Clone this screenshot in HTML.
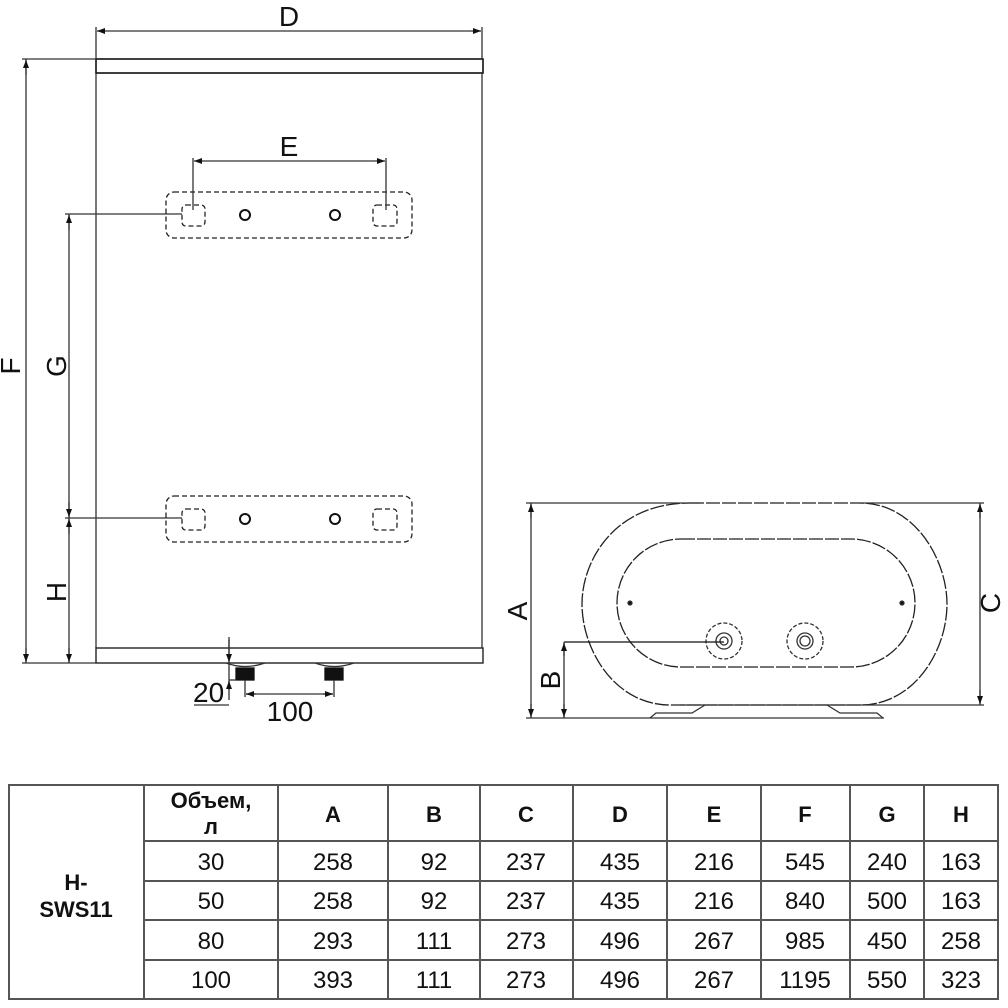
<!DOCTYPE html>
<html><head><meta charset="utf-8"><style>
html,body{margin:0;padding:0;background:#fff;width:1008px;height:1008px;overflow:hidden}
svg{display:block}
.t{font-family:"Liberation Sans",sans-serif}
</style></head><body>
<svg width="1008" height="1008" viewBox="0 0 1008 1008" xmlns="http://www.w3.org/2000/svg">
<defs>
<marker id="a" markerWidth="8" markerHeight="6" refX="8" refY="3" orient="auto" markerUnits="userSpaceOnUse"><path d="M0,0 L8,3 L0,6z" fill="#111"/></marker>
</defs>
<g stroke="#333" stroke-width="1.3" fill="none">
<rect x="96" y="59" width="387" height="14" stroke="#111" stroke-width="1.6"/>
<line x1="96" y1="73" x2="96" y2="648"/>
<line x1="482" y1="73" x2="482" y2="648"/>
<rect x="96" y="648" width="387" height="15" stroke="#222" stroke-width="1.4"/>
<line x1="96" y1="27" x2="96" y2="59"/><line x1="482" y1="27" x2="482" y2="59"/>
<line x1="108" y1="31" x2="470" y2="31"/>
<line x1="108" y1="31" x2="97" y2="31" marker-end="url(#a)"/>
<line x1="470" y1="31" x2="481" y2="31" marker-end="url(#a)"/>
<line x1="22" y1="59" x2="96" y2="59"/>
<line x1="26" y1="59" x2="26" y2="663"/>
<line x1="26" y1="75" x2="26" y2="60" marker-end="url(#a)"/>
<line x1="26" y1="648" x2="26" y2="662" marker-end="url(#a)"/>
<line x1="22" y1="663" x2="96" y2="663"/>
<line x1="69" y1="214" x2="69" y2="663"/>
<line x1="65" y1="214" x2="182" y2="214"/>
<line x1="65" y1="518" x2="182" y2="518"/>
<line x1="69" y1="230" x2="69" y2="215" marker-end="url(#a)"/>
<line x1="69" y1="502" x2="69" y2="517" marker-end="url(#a)"/>
<line x1="69" y1="534" x2="69" y2="519" marker-end="url(#a)"/>
<line x1="69" y1="648" x2="69" y2="662" marker-end="url(#a)"/>
<g stroke-dasharray="5,3" stroke="#222">
<rect x="166" y="192" width="246" height="46" rx="8"/>
<rect x="182" y="205" width="23" height="21" rx="4"/>
<rect x="373" y="205" width="24" height="21" rx="4"/>
<rect x="166" y="496" width="246" height="46" rx="8"/>
<rect x="182" y="509" width="23" height="21" rx="4"/>
<rect x="373" y="509" width="24" height="21" rx="4"/>
</g>
<g stroke="#111" stroke-width="2">
<circle cx="245" cy="215" r="5"/><circle cx="335" cy="215" r="5"/>
<circle cx="245" cy="519" r="5"/><circle cx="335" cy="519" r="5"/>
</g>
<line x1="193" y1="158" x2="193" y2="210"/><line x1="386" y1="158" x2="386" y2="210"/>
<line x1="205" y1="161" x2="374" y2="161"/>
<line x1="205" y1="161" x2="194" y2="161" marker-end="url(#a)"/>
<line x1="374" y1="161" x2="385" y2="161" marker-end="url(#a)"/>
<path d="M226,663 Q245,670 265,663"/><path d="M315,663 Q334,670 354,663"/>
<rect x="236" y="668" width="18" height="12" fill="#111" stroke="#111"/>
<rect x="325" y="668" width="18" height="12" fill="#111" stroke="#111"/>
<line x1="229" y1="637" x2="229" y2="700"/>
<line x1="229" y1="640" x2="229" y2="662" marker-end="url(#a)"/>
<line x1="229" y1="690" x2="229" y2="681" marker-end="url(#a)"/>
<line x1="229" y1="680" x2="236" y2="680"/>
<line x1="194" y1="705" x2="229" y2="705"/>
<line x1="245" y1="680" x2="245" y2="697"/><line x1="334" y1="680" x2="334" y2="697"/>
<line x1="246" y1="694" x2="333" y2="694"/>
<line x1="256" y1="694" x2="246" y2="694" marker-end="url(#a)"/>
<line x1="323" y1="694" x2="333" y2="694" marker-end="url(#a)"/>
<path d="M690,503 L860,503 C915,503 947,560 947,604 C947,650 915,705 860,705 L670,705 C615,705 582,650 582,604 C582,560 615,503 690,503 Z" stroke-dasharray="14,2" stroke="#222"/>
<rect x="617" y="539" width="298" height="128" rx="64" ry="64" stroke-dasharray="14,2" stroke="#222"/>
<circle cx="724" cy="641" r="18" stroke-dasharray="4,2"/><circle cx="724" cy="641" r="8"/><circle cx="724" cy="641" r="4"/>
<circle cx="805" cy="641" r="18" stroke-dasharray="4,2"/><circle cx="805" cy="641" r="8"/><circle cx="805" cy="641" r="5"/>
<circle cx="630" cy="603" r="2" fill="#111"/><circle cx="902" cy="603" r="2" fill="#111"/>
<line x1="564" y1="642" x2="724" y2="642" stroke="#111"/>
<line x1="526" y1="503" x2="700" y2="503"/><line x1="860" y1="503" x2="984" y2="503"/>
<line x1="531" y1="503" x2="531" y2="718"/>
<line x1="531" y1="518" x2="531" y2="504" marker-end="url(#a)"/>
<line x1="531" y1="704" x2="531" y2="717" marker-end="url(#a)"/>
<line x1="564" y1="642" x2="564" y2="718"/>
<line x1="564" y1="656" x2="564" y2="643" marker-end="url(#a)"/>
<line x1="564" y1="704" x2="564" y2="717" marker-end="url(#a)"/>
<line x1="526" y1="718" x2="884" y2="718"/>
<line x1="980" y1="503" x2="980" y2="705"/>
<line x1="980" y1="518" x2="980" y2="504" marker-end="url(#a)"/>
<line x1="980" y1="690" x2="980" y2="704" marker-end="url(#a)"/>
<line x1="680" y1="705" x2="984" y2="705"/>
<path d="M650,718 L656,713 L692,713 L705,705 M827,705 L840,713 L877,713 L883,718"/>
</g>
<g class="t" fill="#111" font-size="28">
<text x="289" y="26" text-anchor="middle">D</text>
<text x="289" y="156" text-anchor="middle">E</text>
<text transform="translate(20,366) rotate(-90)" text-anchor="middle">F</text>
<text transform="translate(66,366) rotate(-90)" text-anchor="middle">G</text>
<text transform="translate(66,592) rotate(-90)" text-anchor="middle">H</text>
<text transform="translate(527,611) rotate(-90)" text-anchor="middle">A</text>
<text transform="translate(560,680) rotate(-90)" text-anchor="middle">B</text>
<text transform="translate(1000,603) rotate(-90)" text-anchor="middle">C</text>
<text x="193" y="702">20</text>
<text x="290" y="721" text-anchor="middle">100</text>
</g>
<g stroke="#555" stroke-width="2" fill="none">
<rect x="9" y="785" width="989" height="214"/>
<line x1="144" y1="785" x2="144" y2="999"/>
<line x1="278" y1="785" x2="278" y2="999"/>
<line x1="388" y1="785" x2="388" y2="999"/>
<line x1="480" y1="785" x2="480" y2="999"/>
<line x1="573" y1="785" x2="573" y2="999"/>
<line x1="667" y1="785" x2="667" y2="999"/>
<line x1="761" y1="785" x2="761" y2="999"/>
<line x1="850" y1="785" x2="850" y2="999"/>
<line x1="924" y1="785" x2="924" y2="999"/>
<line x1="144" y1="841" x2="998" y2="841"/>
<line x1="144" y1="881" x2="998" y2="881"/>
<line x1="144" y1="920" x2="998" y2="920"/>
<line x1="144" y1="960" x2="998" y2="960"/>
</g>
<g class="t" fill="#111" font-size="24" text-anchor="middle">
<g font-weight="bold" font-size="22">
<text x="211" y="808">Объем,</text><text x="211" y="834">л</text>
<text x="333" y="822">A</text><text x="434" y="822">B</text><text x="526" y="822">C</text>
<text x="620" y="822">D</text><text x="714" y="822">E</text><text x="805" y="822">F</text>
<text x="887" y="822">G</text><text x="961" y="822">H</text>
<text x="76" y="890">H-</text><text x="76" y="917">SWS11</text>
</g>
<text x="211" y="870">30</text><text x="333" y="870">258</text><text x="434" y="870">92</text><text x="526" y="870">237</text><text x="620" y="870">435</text><text x="714" y="870">216</text><text x="805" y="870">545</text><text x="887" y="870">240</text><text x="961" y="870">163</text>
<text x="211" y="909">50</text><text x="333" y="909">258</text><text x="434" y="909">92</text><text x="526" y="909">237</text><text x="620" y="909">435</text><text x="714" y="909">216</text><text x="805" y="909">840</text><text x="887" y="909">500</text><text x="961" y="909">163</text>
<text x="211" y="949">80</text><text x="333" y="949">293</text><text x="434" y="949">111</text><text x="526" y="949">273</text><text x="620" y="949">496</text><text x="714" y="949">267</text><text x="805" y="949">985</text><text x="887" y="949">450</text><text x="961" y="949">258</text>
<text x="211" y="988">100</text><text x="333" y="988">393</text><text x="434" y="988">111</text><text x="526" y="988">273</text><text x="620" y="988">496</text><text x="714" y="988">267</text><text x="805" y="988">1195</text><text x="887" y="988">550</text><text x="961" y="988">323</text>
</g>
</svg>
</body></html>
